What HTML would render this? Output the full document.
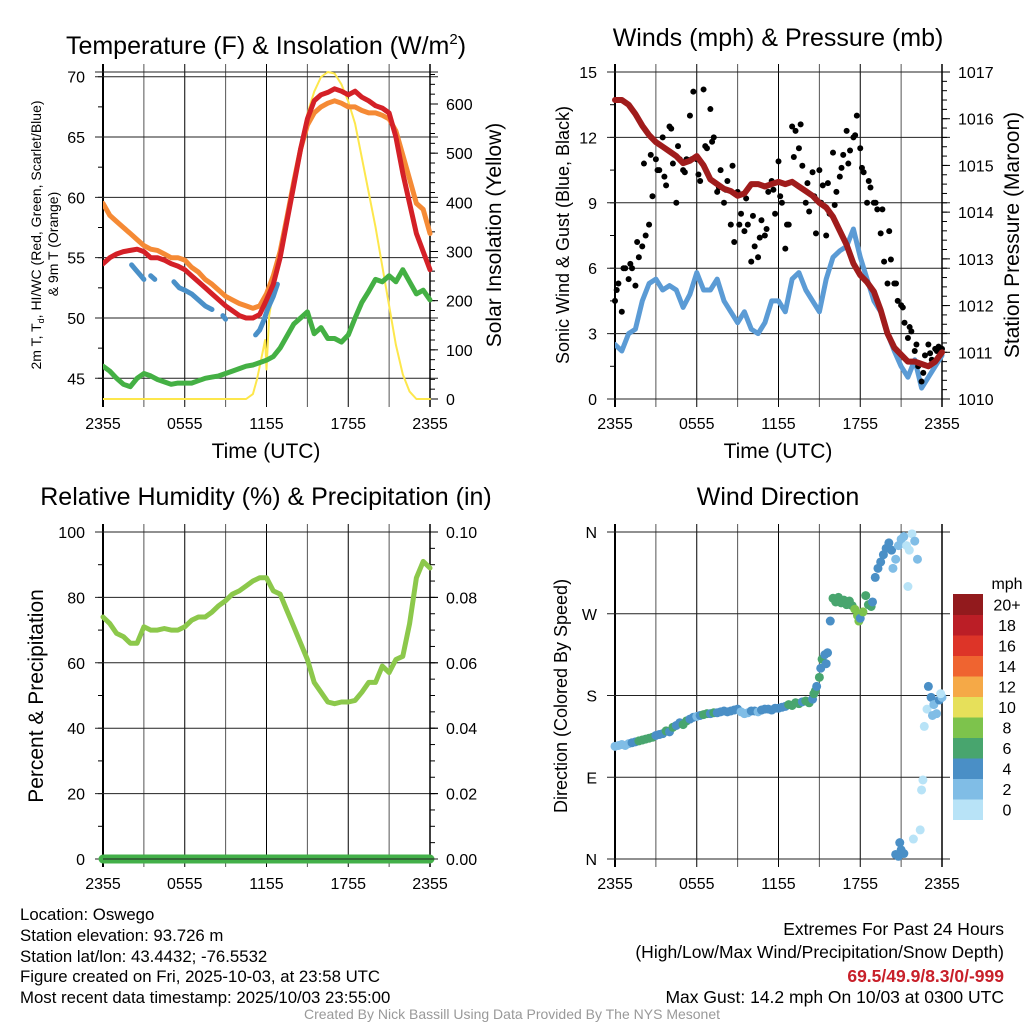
<!DOCTYPE html>
<html><head><meta charset="utf-8"><style>
html,body{margin:0;padding:0;background:#fff;}
svg{display:block;font-family:"Liberation Sans",sans-serif;}
</style></head><body>
<svg id="fig" width="1024" height="1024" viewBox="0 0 1024 1024" xmlns="http://www.w3.org/2000/svg">
<rect width="1024" height="1024" fill="#fff"/>
<text x="266" y="54" font-size="25" text-anchor="middle">Temperature (F) &amp; Insolation (W/m<tspan font-size="15" dy="-10">2</tspan><tspan dy="10">)</tspan></text>
<text x="778" y="46" font-size="25" text-anchor="middle">Winds (mph) &amp; Pressure (mb)</text>
<text x="266" y="505" font-size="25" text-anchor="middle">Relative Humidity (%) &amp; Precipitation (in)</text>
<text x="778" y="505" font-size="25" text-anchor="middle">Wind Direction</text>

<text transform="translate(41,235) rotate(-90)" font-size="14" text-anchor="middle">2m T, T<tspan font-size="9" dy="3">d</tspan><tspan dy="-3">, HI/WC (Red, Green, Scarlet/Blue)</tspan></text>
<text transform="translate(58,244) rotate(-90)" font-size="14" text-anchor="middle">&amp; 9m T (Orange)</text>
<text transform="translate(501,235) rotate(-90)" font-size="21" text-anchor="middle">Solar Insolation (Yellow)</text>
<text x="266" y="458" font-size="21" text-anchor="middle">Time (UTC)</text>
<text transform="translate(569,235) rotate(-90)" font-size="18" text-anchor="middle">Sonic Wind &amp; Gust (Blue, Black)</text>
<text transform="translate(1019,235) rotate(-90)" font-size="21" text-anchor="middle">Station Pressure (Maroon)</text>
<text x="778" y="458" font-size="21" text-anchor="middle">Time (UTC)</text>
<text transform="translate(43,696) rotate(-90)" font-size="21" text-anchor="middle">Percent &amp; Precipitation</text>
<text transform="translate(567,696) rotate(-90)" font-size="18" text-anchor="middle">Direction (Colored By Speed)</text>

<g font-size="16.8">
<text x="20" y="920">Location: Oswego</text>
<text x="20" y="941">Station elevation: 93.726 m</text>
<text x="20" y="962">Station lat/lon: 43.4432; -76.5532</text>
<text x="20" y="982">Figure created on Fri, 2025-10-03, at 23:58 UTC</text>
<text x="20" y="1003">Most recent data timestamp: 2025/10/03 23:55:00</text>
</g>
<g font-size="17.5" text-anchor="end">
<text x="1004" y="935">Extremes For Past 24 Hours</text>
<text x="1004" y="958">(High/Low/Max Wind/Precipitation/Snow Depth)</text>
<text x="1004" y="982" fill="#c8202a" font-weight="bold">69.5/49.9/8.3/0/-999</text>
<text x="1004" y="1003">Max Gust: 14.2 mph On 10/03 at 0300 UTC</text>
</g>
<text x="512" y="1019" font-size="14" fill="#999" text-anchor="middle">Created By Nick Bassill Using Data Provided By The NYS Mesonet</text>
</svg>
<script>
// ---------- data ----------
const halfHours = [0,0.5,1,1.5,2,2.5,3,3.5,4,4.5,5,5.5,6,6.5,7,7.5,8,8.5,9,9.5,10,10.5,11,11.5,12,12.5,13,13.5,14,14.5,15,15.5,16,16.5,17,17.5,18,18.5,19,19.5,20,20.5,21,21.5,22,22.5,23,23.5,24];
const xTickLabels = ["2355","0555","1155","1755","2355"];
const temp2m = [54.5,55,55.3,55.5,55.6,55.7,55.5,55,55,54.8,54.5,54.3,54,53.5,53,52.5,52,51.5,51,50.6,50.2,50,50,50.3,51.5,52.8,55,58,61,64,66.5,68,68.5,68.7,69,68.8,68.5,68.8,68.3,68,67.6,67.4,67,65,62,59.5,57,55.5,54];
const temp9m = [59.5,58.5,58,57.5,57,56.5,56,55.7,55.6,55.3,55,55,54.8,54.2,53.8,53.2,52.8,52.3,51.8,51.5,51.2,51,50.8,51,52,53.5,55.5,58.3,61.3,64,66,67,67.5,67.8,68,67.8,67.5,67.5,67.2,67,67,66.8,66.5,65.5,63.5,61.5,59.5,59,57];
const dewpoint = [46,45.6,45,44.5,44.3,45,45.4,45.2,44.9,44.7,44.5,44.6,44.6,44.6,44.8,45,45.1,45.2,45.4,45.6,45.8,46,46.1,46.3,46.5,46.8,47.5,48.5,49.5,50,50.5,48.7,49.2,48.3,48.3,48,48.6,50,51.3,52.2,53.2,53,53.5,53,54,53,52,52.3,51.5];
const hiwcTimes = [2.1,2.4,2.7,3.0,null,3.5,3.8,null,5.2,5.6,6.0,6.5,7.0,7.5,8.0,null,8.8,9.0,null,11.2,11.5,11.8,12.1,12.5,12.8];
const hiwcValues = [54.4,54,53.6,53.2,null,53.5,53.2,null,53,52.5,52.3,52,51.5,51,50.7,null,50.2,49.9,null,48.6,49,49.8,50.8,51.8,52.8];
const solarTimes = [0,10.5,11,11.3,11.6,11.9,12.0,12.2,12.5,13,13.5,14,14.5,15,15.5,16,16.5,17,17.5,18,18.5,19,19.5,20,20.5,21,21.5,22,22.5,23,23.5,24];
const solarValues = [0,0,10,40,80,120,60,170,220,300,380,450,520,580,625,655,665,662,640,605,560,490,420,350,270,190,110,50,15,0,0,0];

const sonicWind = [2.5,2.2,3,3.2,4.5,5.3,5.5,5,5.2,5,4.2,4.8,5.8,5,5,5.5,4.5,4,3.5,4,3.2,3,3.5,4.5,4.5,4,5.5,5.8,5,4.5,4,5.5,6.5,6.8,7,7.8,6.5,5.5,4.5,4,3,2.2,1.5,1,1.8,0.5,1,1.5,2];
const gusts = [4.5,5.3,4,6, 5.5,6,5.2,6.5, 7,7.5,8,9.3, 11,10.5,12,9.8, 12.5,10.8,9,11, 10.5,11,13,14.1, 11,10,14.2,11.5, 13.3,12,9.5,10.5, 9,10,8,7.2, 9.5,8.5,7.7,8, 6.3,7,6.5,8.2, 7.5,9.5,10,8.5, 10.9,9,6.9,8, 12.5,12.3,11.5,10.7, 9,8.6,10.4,7.6, 10.5,9.8,7.5,8.5, 11.3,9.5,10.2,11.2, 12.3,11.4,12,13, 11.5,10.4,9,9.7, 9,8.7,7.6,6.3, 5.3,6.4,5.3,4.5, 4.3,3.5,2.8,3.1, 2.2,1.5,0.8,2, 2.5,1.8,2.3,2.4, 2.3];
const gustsExtra = [5,6,6.2,7.2,10.8,11.2,10.5,10.2,12.4,11.6,10.4,11,10.3,11.6,11.8,9.7,9.6,10.7,8,9.2,8.4,7.4,7.8,9.6,9.3,8,11.1,12.6,9.9,9.3,9,9.9,8.9,10.6,10.8,12.1,10.6,10,9,8.7,7.7,5.3,4.2,3.3,2.5,1.2,2.1,2.2];
const pressure = [1016.4,1016.4,1016.3,1016.1,1015.85,1015.65,1015.5,1015.4,1015.3,1015.2,1015.05,1015.1,1015.2,1015.0,1014.7,1014.6,1014.5,1014.45,1014.35,1014.4,1014.6,1014.6,1014.55,1014.6,1014.65,1014.6,1014.65,1014.55,1014.45,1014.35,1014.2,1014.1,1013.9,1013.6,1013.3,1012.9,1012.65,1012.5,1012.3,1011.9,1011.4,1011.1,1010.95,1010.8,1010.8,1010.75,1010.7,1010.8,1011.0];

const relHumidity = [74,72,69,68,66,66,71,70,70,70.5,70,70,71,73,74,74,75.5,77.5,79,81,82,83.5,85,86,86,82,81,76,71,66,61,54,51,48,47.5,48,48,48.5,51,54,54,59,57,61,62,72,86,91,89];
const precip = [0,0,0,0,0,0,0,0,0,0,0,0,0,0,0,0,0,0,0,0,0,0,0,0,0,0,0,0,0,0,0,0,0,0,0,0,0,0,0,0,0,0,0,0,0,0,0,0,0];

const dirTimes = [0,0.25,0.5,0.75,1,1.25,1.5,1.75,2,2.25,2.5,2.75,3, 3.25,3.5,3.75,4,4.25,4.5,4.75,5,5.25,5.5,5.75,6, 6.25,6.5,6.75,7,7.25,7.5,7.75,8,8.25,8.5,8.75,9, 9.25,9.5,9.75,10,10.25,10.5,10.75,11,11.25,11.5,11.75,12, 12.25,12.5,12.75,13,13.25,13.5,13.75,14,14.25,14.5, 14.6,14.7,14.8,15.0,15.1,15.2,15.4,15.6,15.5,15.8, 16.0,16.2,16.4,16.6,16.8,17.0,17.2,17.4,17.6,17.8,17.9,18.0,18.2,18.4,18.6,18.8,18.9,19.1,19.3,19.5,19.7,19.9,20.1,20.3,20.6,20.8,21.0,21.2,21.4,21.6,21.8,22.0,22.2,21.5,20.4, 20.6,20.8,20.9,21.0,21.2,21.9,22.4,22.6,22.5,22.7,22.9,23.0,23.2,23.4,23.6,23.8,24.0,23.9,23.3];
const dirValues = [124,125,126,125,127,128,129,130,131,132,133,134,136, 137,138,141,140,145,147,150,148,152,154,156,157, 158,159,160,160,161,161,162,163,162,163,164,165, 162,160,161,163,163,162,164,165,165,164,166,166, 167,168,170,169,172,171,173,174,172,176, 182,185,190,200,210,220,225,227,215,262, 287,283,288,282,285,280,284,279,275,268,262,265,272,290,280,278,283,310,320,327,335,342,348,340,330,345,352,355,345,340,358,350,330,300,320, 5,3,18,10,6,22,32,87,76,146,165,190,178,170,160,175,178,182,158];
const dirSpeeds = [2,2,2,2,2,4,4,6,6,6,6,6,4, 4,4,6,4,6,4,4,6,6,4,4,2, 4,6,6,4,6,4,4,4,4,4,4,4, 2,2,2,4,4,2,4,4,4,4,4,4, 4,4,6,6,6,6,4,6,6,4, 6,6,4,6,4,6,4,4,4,4, 6,6,6,6,6,6,6,6,8,8,8,4,8,6,6,6,4,4,4,4,4,4,4,4,2,2,2,2,0,0,0,2,2,0,2, 4,4,4,4,4,0,0,0,0,0,0,4,4,2,2,4,2,0,2];
const speedClassLabels = ["0","2","4","6","8","10","12","14","16","18","20+"];
const speedClassColors = ["#b8e3f7","#80bde6","#4a8fc6","#48a56e","#7dc34c","#e6e05a","#f5a947","#ef6430","#dd3428","#bb1e26","#921a1d"];

// ---------- helpers ----------
const NS = "http://www.w3.org/2000/svg";
const svg = document.getElementById("fig");
const TICKFONT = 16;
function el(tag, attrs, parent){
  const e = document.createElementNS(NS, tag);
  for (const k in attrs) e.setAttribute(k, attrs[k]);
  (parent||svg).appendChild(e);
  return e;
}
function linScale(d0,d1,r0,r1){ return v => r0 + (v-d0)/(d1-d0)*(r1-r0); }

function makePanel(name, X0, X1, Y0, Y1){
  const g = el("g", {});
  
  
  const xs = linScale(0,24,X0,X1);
  for (let h=0; h<=24; h+=3){
    const x = xs(h);
    const ln = el("line",{x1:x,x2:x,y1:Y0-8,y2:Y1+8,stroke:(h%6===0?"#000":"#555"),"stroke-width":(h===0?2:1)},g);
    
    
  }
  for (let i=0;i<xTickLabels.length;i++){
    const t = el("text",{x:xs(i*6),y:Y1+30,"font-size":TICKFONT,"text-anchor":"middle"},g);
    t.textContent = xTickLabels[i];
    
    
  }
  return {g, xs};
}
function yAxis(g, scale, X0, X1, side, majors, minors, fmt, grid){
  for (const v of minors){
    const y = scale(v);
    if (side==="left") el("line",{x1:X0-5,x2:X0,y1:y,y2:y,stroke:"#000","stroke-width":1},g);
    else el("line",{x1:X1,x2:X1+5,y1:y,y2:y,stroke:"#000","stroke-width":1},g);
  }
  for (const v of majors){
    const y = scale(v);
    if (grid){
      const ln = el("line",{x1:X0-8,x2:X1+8,y1:y,y2:y,stroke:"#222","stroke-width":1},g);
      
      
    } else {
      if (side==="left") el("line",{x1:X0-8,x2:X0,y1:y,y2:y,stroke:"#000"},g);
      else el("line",{x1:X1,x2:X1+8,y1:y,y2:y,stroke:"#000"},g);
    }
    const t = el("text",{x: side==="left"?X0-18:X1+16, y:y+6,"font-size":TICKFONT,"text-anchor":side==="left"?"end":"start"},g);
    t.textContent = fmt(v);
    
    
  }
}
function range(a,b,s){ const r=[]; for(let v=a; v<=b+1e-9; v+=s) r.push(Math.round(v*1000)/1000); return r; }
function pathFrom(ts, vs, xs, ys){
  let d="", pen=false;
  for (let i=0;i<ts.length;i++){
    if (ts[i]===null || vs[i]===null){ pen=false; continue; }
    d += (pen?"L":"M") + xs(ts[i]).toFixed(1) + "," + ys(vs[i]).toFixed(1);
    pen=true;
  }
  return d;
}
function clip(id, X0,X1,Y0,Y1){
  const defs = el("defs",{});
  const cp = el("clipPath",{id:id},defs);
  el("rect",{x:X0,y:Y0-4,width:X1-X0+6,height:Y1-Y0+8},cp);
}

// ---------- panel 1: temperature ----------
(function(){
  const X0=103,X1=430,Y0=72,Y1=399;
  const P = makePanel("temperature-panel",X0,X1,Y0,Y1);
  const ty = linScale(45,70,378.3,76.7);
  const sy = linScale(0,600,Y1,104);
  el("line",{x1:X0-8,x2:X1+8,y1:Y0,y2:Y0,stroke:"#222"},P.g);
  yAxis(P.g, ty, X0, X1, "left", range(45,70,5), range(45,70,2.5), v=>String(v), true);
  yAxis(P.g, sy, X0, X1, "right", range(0,600,100), range(0,660,20), v=>String(v), false);
  el("line",{x1:X1,x2:X1,y1:Y0-8,y2:Y1+8,stroke:"#000","stroke-width":1.5},P.g);
  clip("c1",X0,X1,Y0,Y1);
  const lg = el("g",{"clip-path":"url(#c1)",fill:"none","stroke-linejoin":"round","stroke-linecap":"round"},P.g);
  const sol = el("path",{d:pathFrom(solarTimes,solarValues,P.xs,sy),stroke:"#fde74c","stroke-width":2},lg);
  
  
  const dp = el("path",{d:pathFrom(halfHours,dewpoint,P.xs,ty),stroke:"#44b044","stroke-width":5},lg);
  
  
  const hw = el("path",{d:pathFrom(hiwcTimes,hiwcValues,P.xs,ty),stroke:"#4a90c8","stroke-width":5},lg);
  
  
  const t9 = el("path",{d:pathFrom(halfHours,temp9m,P.xs,ty),stroke:"#f58a35","stroke-width":5},lg);
  
  
  const t2 = el("path",{d:pathFrom(halfHours,temp2m,P.xs,ty),stroke:"#d42027","stroke-width":5},lg);
  
  
})();

// ---------- panel 2: winds ----------
(function(){
  const X0=615,X1=942,Y0=72,Y1=399;
  const P = makePanel("wind-pressure-panel",X0,X1,Y0,Y1);
  const wy = linScale(0,15,Y1,Y0);
  const py = linScale(1010,1017,Y1,Y0);
  yAxis(P.g, wy, X0, X1, "left", range(0,15,3), range(0,15,1.5), v=>String(v), true);
  yAxis(P.g, py, X0, X1, "right", range(1010,1017,1), range(1010,1017,0.2), v=>String(v), false);
  el("line",{x1:X1,x2:X1,y1:Y0-8,y2:Y1+8,stroke:"#000","stroke-width":1.5},P.g);
  clip("c2",X0,X1,Y0,Y1);
  const lg = el("g",{"clip-path":"url(#c2)",fill:"none","stroke-linejoin":"round","stroke-linecap":"round"},P.g);
  const sw = el("path",{d:pathFrom(halfHours,sonicWind,P.xs,wy),stroke:"#5b9bd5","stroke-width":5},lg);
  
  
  const dg = el("g",{fill:"#000"},P.g);
  for (let i=0;i<gusts.length;i++){
    const c = el("circle",{cx:P.xs(i*0.25),cy:wy(gusts[i]),r:3},dg);
    
    
  }
  for (let i=0;i<gustsExtra.length;i++){
    const c = el("circle",{cx:P.xs(i*0.5+0.125),cy:wy(gustsExtra[i]),r:3},dg);
    
    
  }
  const pr = el("path",{d:pathFrom(halfHours,pressure,P.xs,py),stroke:"#a01c1c","stroke-width":6,fill:"none","stroke-linejoin":"round","stroke-linecap":"round"},P.g);
  
  
})();

// ---------- panel 3: RH ----------
(function(){
  const X0=103,X1=430,Y0=532,Y1=859;
  const P = makePanel("humidity-panel",X0,X1,Y0,Y1);
  const ry = linScale(0,100,Y1,Y0);
  const qy = linScale(0,0.1,Y1,Y0);
  yAxis(P.g, ry, X0, X1, "left", range(0,100,20), range(0,100,10), v=>String(v), true);
  yAxis(P.g, qy, X0, X1, "right", range(0,0.1,0.02), range(0,0.1,0.005), v=>v.toFixed(2), false);
  el("line",{x1:X1,x2:X1,y1:Y0-8,y2:Y1+8,stroke:"#000","stroke-width":1.5},P.g);
  const rh = el("path",{d:pathFrom(halfHours,relHumidity,P.xs,ry),stroke:"#8cc84b","stroke-width":5,fill:"none","stroke-linejoin":"round","stroke-linecap":"round"},P.g);
  
  
  const pc = el("path",{d:pathFrom(halfHours,precip,P.xs,qy),stroke:"#43b049","stroke-width":9,fill:"none","stroke-linecap":"round"},P.g);
  
  
  el("line",{x1:X0,x2:X1+8,y1:Y1,y2:Y1,stroke:"#222","stroke-width":1},P.g);
})();

// ---------- panel 4: direction ----------
(function(){
  const X0=615,X1=942,Y0=532,Y1=859;
  const P = makePanel("wind-direction-panel",X0,X1,Y0,Y1);
  const dy = linScale(0,360,Y1,Y0);
  const labs = ["N","E","S","W","N"];
  for (let i=0;i<5;i++){
    const y = dy(i*90);
    el("line",{x1:X0-8,x2:X1+8,y1:y,y2:y,stroke:"#222"},P.g);
    const t = el("text",{x:X0-18,y:y+6,"font-size":TICKFONT,"text-anchor":"end"},P.g);
    t.textContent = labs[i];
    
    
  }
  el("line",{x1:X1,x2:X1,y1:Y0-8,y2:Y1+8,stroke:"#000","stroke-width":1.5},P.g);
  const pg = el("g",{},P.g);
  for (let i=0;i<dirTimes.length;i++){
    const cls = Math.min(10, Math.floor(dirSpeeds[i]/2));
    const c = el("circle",{cx:P.xs(dirTimes[i]),cy:dy(dirValues[i]),r:4.5,fill:speedClassColors[cls]},pg);
    
    
  }
  const lg = el("g",{});
  
  
  const top=594, bh=20.5;
  const mt = el("text",{x:1007,y:589,"font-size":TICKFONT,"text-anchor":"middle"},lg);
  mt.textContent = "mph";
  for (let i=0;i<speedClassColors.length;i++){
    const y = top + (10-i)*bh;
    const r = el("rect",{x:953,y:y,width:30,height:bh+0.5,fill:speedClassColors[i]},lg);
    
    
    const t = el("text",{x:1007,y:y+bh/2+6,"font-size":TICKFONT,"text-anchor":"middle"},lg);
    t.textContent = speedClassLabels[i];
    
    
  }
})();
</script>
</body></html>
